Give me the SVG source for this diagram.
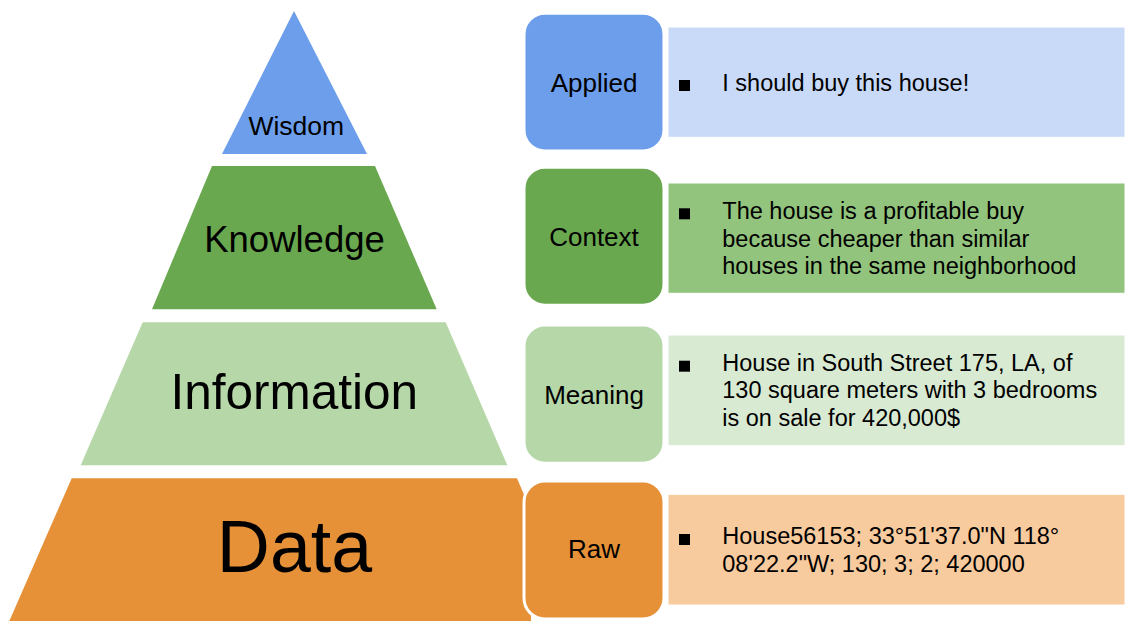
<svg xmlns="http://www.w3.org/2000/svg" width="1147" height="626" viewBox="0 0 1147 626">
  <style>
    text { font-family: "Liberation Sans", Arial, sans-serif; fill: #000; }
    .tier-label { text-anchor: middle; }
    .tag { stroke: #ffffff; stroke-width: 3; }
    .tag-label { font-size: 26px; text-anchor: middle; }
    .panel { stroke: #ffffff; stroke-width: 1; }
    .body { font-size: 23.5px; }
    .bullet { fill: #000; }
  </style>

  <rect width="1147" height="626" fill="#ffffff"/>

  <!-- pyramid tiers -->
  <g id="tier-data">
    <polygon points="71.7,478.3 517,478.3 531,511 531,621 9.3,621" fill="#e69138"/>
    <text class="tier-label" x="294.5" y="571.7" font-size="73.5">Data</text>
  </g>
  <g id="tier-information">
    <polygon points="142.7,322.3 445.7,322.3 507.3,465.3 80.7,465.3" fill="#b6d7a8"/>
    <text class="tier-label" x="294.2" y="409" font-size="49.5">Information</text>
  </g>
  <g id="tier-knowledge">
    <polygon points="212,166 375,166 436.7,309.3 152,309.3" fill="#6aa84f"/>
    <text class="tier-label" x="294.5" y="252" font-size="36.5">Knowledge</text>
  </g>
  <g id="tier-wisdom">
    <polygon points="294,11 367,154 222,154" fill="#6d9eeb"/>
    <text class="tier-label" x="296.3" y="135" font-size="26.5">Wisdom</text>
  </g>

  <!-- connectors: none drawn -->
  <g id="connectors"></g>

  <!-- level tags with their descriptions -->
  <g id="row-applied">
    <rect class="panel" x="668" y="27" width="457" height="110.3" fill="#c9daf8"/>
    <rect class="tag" x="524" y="13.3" width="140" height="137.7" rx="21" fill="#6d9eeb"/>
    <text class="tag-label" x="594" y="91.7">Applied</text>
    <rect class="bullet" x="679" y="80" width="11" height="11"/>
    <text class="body" x="722.3" y="90.7">I should buy this house!</text>
  </g>

  <g id="row-context">
    <rect class="panel" x="668" y="183" width="457" height="110.3" fill="#93c47d"/>
    <rect class="tag" x="524" y="167.3" width="140" height="138" rx="21" fill="#6aa84f"/>
    <text class="tag-label" x="594" y="246">Context</text>
    <rect class="bullet" x="679" y="208.3" width="11" height="11"/>
    <text class="body" x="722.3" y="219">The house is a profitable buy</text>
    <text class="body" x="722.3" y="246.7">because cheaper than similar</text>
    <text class="body" x="722.3" y="274.3">houses in the same neighborhood</text>
  </g>

  <g id="row-meaning">
    <rect class="panel" x="668" y="335" width="457" height="110.7" fill="#d9ead3"/>
    <rect class="tag" x="524" y="325" width="140" height="138.3" rx="21" fill="#b6d7a8"/>
    <text class="tag-label" x="594" y="404">Meaning</text>
    <rect class="bullet" x="679" y="360.7" width="11" height="11"/>
    <text class="body" x="722.3" y="370.7">House in South Street 175, LA, of</text>
    <text class="body" x="722.3" y="398.3">130 square meters with 3 bedrooms</text>
    <text class="body" x="722.3" y="426">is on sale for 420,000$</text>
  </g>

  <g id="row-raw">
    <rect class="panel" x="668" y="494.3" width="457" height="110.7" fill="#f8cb9e"/>
    <rect class="tag" x="524" y="481" width="140" height="138" rx="21" fill="#e69138"/>
    <text class="tag-label" x="594" y="558.3">Raw</text>
    <rect class="bullet" x="679" y="534" width="11" height="11"/>
    <text class="body" x="722.3" y="544.3">House56153; 33°51'37.0"N 118°</text>
    <text class="body" x="722.3" y="571.7">08'22.2"W; 130; 3; 2; 420000</text>
  </g>
</svg>
